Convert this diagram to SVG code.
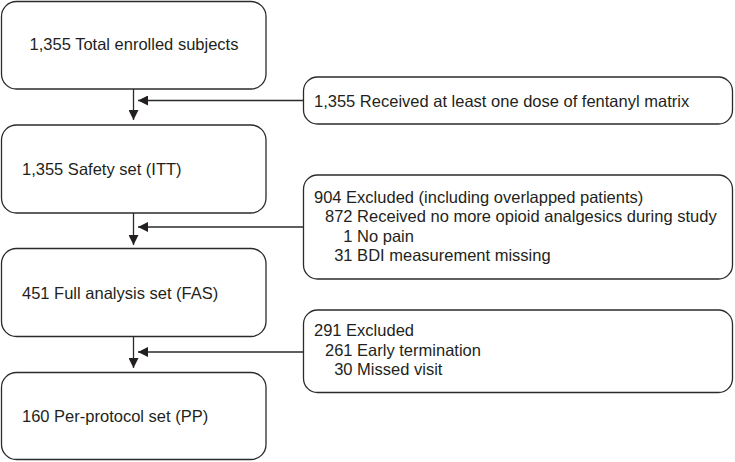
<svg xmlns="http://www.w3.org/2000/svg" width="735" height="462" viewBox="0 0 735 462">
<style>
.box{fill:#fff;stroke:#2b2b2b;stroke-width:1.3}
.t{font-family:"Liberation Sans",Arial,sans-serif;font-size:16.5px;fill:#231f20}
.s{font-family:"Liberation Sans",Arial,sans-serif;font-size:16.5px;fill:#231f20}
.ln{stroke:#2b2b2b;stroke-width:1.3;fill:none}
</style>
<defs>
<marker id="ah" viewBox="0 0 10 10" refX="10" refY="5" markerWidth="10" markerHeight="10" markerUnits="userSpaceOnUse" orient="auto">
<path d="M0,0 L10,5 L0,10 z" fill="#231f20"/>
</marker>
</defs>
<rect width="735" height="462" fill="#fff"/>
<g id="n1"><rect class="box" x="1.5" y="1.5" width="264.5" height="87.5" rx="15"/><text class="t" x="134" y="50" text-anchor="middle">1,355 Total enrolled subjects</text></g>
<g id="n2"><rect class="box" x="1.5" y="125" width="264.5" height="88" rx="15"/><text class="t" x="22" y="174.5">1,355 Safety set (ITT)</text></g>
<g id="n3"><rect class="box" x="1.5" y="248.5" width="264.5" height="88" rx="15"/><text class="t" x="22" y="298.5">451 Full analysis set (FAS)</text></g>
<g id="n4"><rect class="box" x="1.5" y="372.5" width="264.5" height="87" rx="15"/><text class="t" x="22" y="422">160 Per-protocol set (PP)</text></g>
<g id="sA"><rect class="box" x="303.5" y="77" width="429" height="47" rx="14"/><text class="s" x="314" y="106.5">1,355 Received at least one dose of fentanyl matrix</text></g>
<g id="sB"><rect class="box" x="303.5" y="175" width="429" height="104" rx="14"/>
<text class="s" x="314" y="202.5">904 Excluded (including overlapped patients)</text>
<text class="s" x="325" y="222">872 Received no more opioid analgesics during study</text>
<text class="s" x="343.3" y="241.5">1 No pain</text>
<text class="s" x="334.2" y="261">31 BDI measurement missing</text></g>
<g id="sC"><rect class="box" x="303.5" y="310" width="429" height="82.5" rx="14"/>
<text class="s" x="314" y="336">291 Excluded</text>
<text class="s" x="325" y="355.5">261 Early termination</text>
<text class="s" x="334.2" y="375">30 Missed visit</text></g>
<g id="connectors">
<line class="ln" x1="133.5" y1="89" x2="133.5" y2="120" marker-end="url(#ah)"/>
<line class="ln" x1="303.5" y1="100.5" x2="138" y2="100.5" marker-end="url(#ah)"/>
<line class="ln" x1="133.5" y1="213" x2="133.5" y2="245" marker-end="url(#ah)"/>
<line class="ln" x1="303.5" y1="227" x2="138" y2="227" marker-end="url(#ah)"/>
<line class="ln" x1="133.5" y1="336.5" x2="133.5" y2="368" marker-end="url(#ah)"/>
<line class="ln" x1="303.5" y1="352" x2="138" y2="352" marker-end="url(#ah)"/>
</g>
</svg>
